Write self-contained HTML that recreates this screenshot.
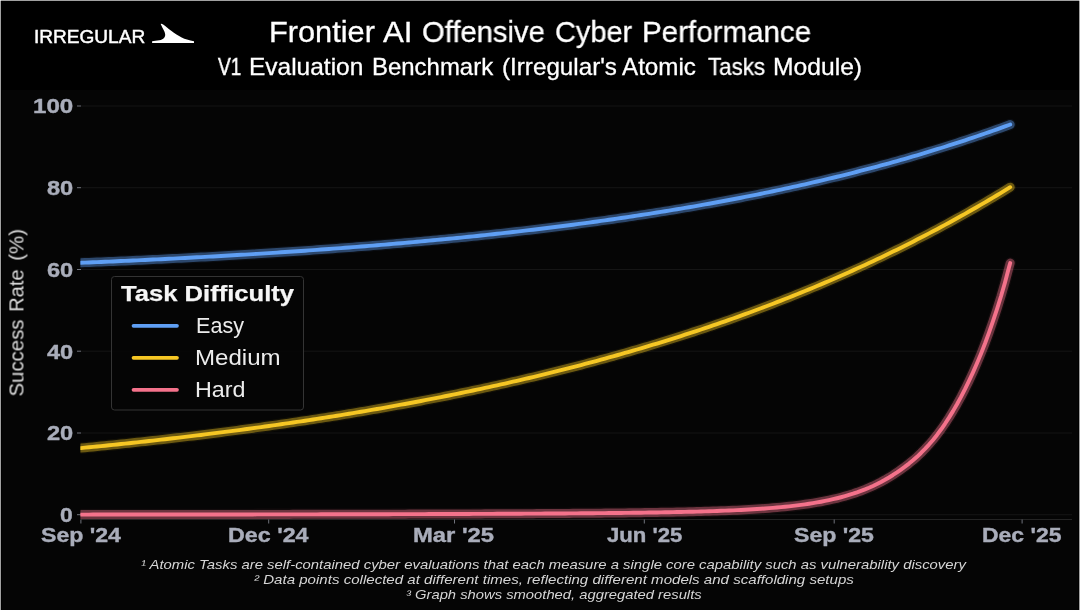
<!DOCTYPE html>
<html><head><meta charset="utf-8"><title>Frontier AI Offensive Cyber Performance</title>
<style>
html,body{margin:0;padding:0;background:#000;}
body{width:1080px;height:610px;position:relative;overflow:hidden;font-family:"Liberation Sans",sans-serif;color:#fff;}
#bt{position:absolute;left:0;top:0;width:1080px;height:1.2px;background:rgba(255,255,255,0.63);}
#bl{position:absolute;left:0;top:0;width:1.25px;height:610px;background:rgba(255,255,255,0.63);}
#br{position:absolute;left:1078.75px;top:0;width:1.25px;height:610px;background:rgba(255,255,255,0.63);}
#plot{position:absolute;left:2.4px;top:90.4px;width:1075.2px;height:520px;background:#050505;}
svg{position:absolute;left:0;top:0;}
.g{position:absolute;left:0;top:0;}
.t{position:absolute;white-space:nowrap;line-height:1;transform-origin:0 0;will-change:transform;}
</style></head><body>
<div id="plot"></div>
<svg width="1080" height="610" viewBox="0 0 1080 610">
<clipPath id="cp"><rect x="80.4" y="90" width="991.6" height="429.5"/></clipPath>
<g stroke="#151515" stroke-width="1"><line x1="81" x2="1072" y1="514.7" y2="514.7"/><line x1="81" x2="1072" y1="433.0" y2="433.0"/><line x1="81" x2="1072" y1="351.2" y2="351.2"/><line x1="81" x2="1072" y1="269.5" y2="269.5"/><line x1="81" x2="1072" y1="187.7" y2="187.7"/><line x1="81" x2="1072" y1="106.0" y2="106.0"/></g>
<line x1="81" x2="1072" y1="519.5" y2="519.5" stroke="#242424" stroke-width="1"/>
<g stroke="#70737c" stroke-width="1"><line x1="77" x2="81" y1="514.7" y2="514.7"/><line x1="77" x2="81" y1="433.0" y2="433.0"/><line x1="77" x2="81" y1="351.2" y2="351.2"/><line x1="77" x2="81" y1="269.5" y2="269.5"/><line x1="77" x2="81" y1="187.7" y2="187.7"/><line x1="77" x2="81" y1="106.0" y2="106.0"/><line x1="80.9" x2="80.9" y1="519.5" y2="523.5"/><line x1="268.7" x2="268.7" y1="519.5" y2="523.5"/><line x1="454.5" x2="454.5" y1="519.5" y2="523.5"/><line x1="644.3" x2="644.3" y1="519.5" y2="523.5"/><line x1="834.2" x2="834.2" y1="519.5" y2="523.5"/><line x1="1022.1" x2="1022.1" y1="519.5" y2="523.5"/></g>
<g fill="none" stroke-linecap="round" stroke-linejoin="round" clip-path="url(#cp)">
<path d="M81.0,262.79 L85.0,262.62 L89.0,262.46 L93.0,262.29 L97.0,262.12 L101.0,261.95 L105.0,261.78 L109.0,261.60 L113.0,261.43 L117.0,261.25 L121.0,261.07 L125.0,260.89 L129.0,260.71 L133.0,260.52 L137.0,260.33 L141.0,260.15 L145.0,259.96 L149.0,259.77 L153.0,259.57 L157.0,259.38 L161.0,259.18 L165.0,258.98 L169.0,258.78 L173.0,258.58 L177.0,258.37 L181.0,258.17 L185.0,257.96 L189.0,257.75 L193.0,257.54 L197.0,257.32 L201.0,257.10 L205.0,256.89 L209.0,256.67 L213.0,256.44 L217.0,256.22 L221.0,255.99 L225.0,255.76 L229.0,255.53 L233.0,255.30 L237.0,255.06 L241.0,254.82 L245.0,254.58 L249.0,254.34 L253.0,254.10 L257.0,253.85 L261.0,253.60 L265.0,253.35 L269.0,253.09 L273.0,252.84 L277.0,252.58 L281.0,252.32 L285.0,252.05 L289.0,251.78 L293.0,251.52 L297.0,251.24 L301.0,250.97 L305.0,250.69 L309.0,250.41 L313.0,250.13 L317.0,249.85 L321.0,249.56 L325.0,249.27 L329.0,248.98 L333.0,248.68 L337.0,248.38 L341.0,248.08 L345.0,247.78 L349.0,247.47 L353.0,247.16 L357.0,246.85 L361.0,246.53 L365.0,246.21 L369.0,245.89 L373.0,245.57 L377.0,245.24 L381.0,244.91 L385.0,244.57 L389.0,244.23 L393.0,243.89 L397.0,243.55 L401.0,243.20 L405.0,242.85 L409.0,242.50 L413.0,242.14 L417.0,241.78 L421.0,241.42 L425.0,241.05 L429.0,240.68 L433.0,240.30 L437.0,239.93 L441.0,239.54 L445.0,239.16 L449.0,238.77 L453.0,238.38 L457.0,237.98 L461.0,237.58 L465.0,237.18 L469.0,236.77 L473.0,236.36 L477.0,235.94 L481.0,235.52 L485.0,235.10 L489.0,234.67 L493.0,234.24 L497.0,233.81 L501.0,233.37 L505.0,232.92 L509.0,232.48 L513.0,232.02 L517.0,231.57 L521.0,231.11 L525.0,230.64 L529.0,230.17 L533.0,229.70 L537.0,229.22 L541.0,228.74 L545.0,228.25 L549.0,227.76 L553.0,227.26 L557.0,226.76 L561.0,226.25 L565.0,225.74 L569.0,225.22 L573.0,224.70 L577.0,224.18 L581.0,223.65 L585.0,223.11 L589.0,222.57 L593.0,222.02 L597.0,221.47 L601.0,220.91 L605.0,220.35 L609.0,219.79 L613.0,219.21 L617.0,218.63 L621.0,218.05 L625.0,217.46 L629.0,216.87 L633.0,216.27 L637.0,215.66 L641.0,215.05 L645.0,214.43 L649.0,213.81 L653.0,213.18 L657.0,212.54 L661.0,211.90 L665.0,211.26 L669.0,210.60 L673.0,209.94 L677.0,209.28 L681.0,208.60 L685.0,207.93 L689.0,207.24 L693.0,206.55 L697.0,205.85 L701.0,205.15 L705.0,204.43 L709.0,203.72 L713.0,202.99 L717.0,202.26 L721.0,201.52 L725.0,200.77 L729.0,200.02 L733.0,199.26 L737.0,198.49 L741.0,197.72 L745.0,196.94 L749.0,196.15 L753.0,195.35 L757.0,194.55 L761.0,193.74 L765.0,192.92 L769.0,192.09 L773.0,191.25 L777.0,190.41 L781.0,189.56 L785.0,188.70 L789.0,187.83 L793.0,186.96 L797.0,186.07 L801.0,185.18 L805.0,184.28 L809.0,183.37 L813.0,182.45 L817.0,181.52 L821.0,180.59 L825.0,179.64 L829.0,178.69 L833.0,177.73 L837.0,176.76 L841.0,175.78 L845.0,174.79 L849.0,173.79 L853.0,172.78 L857.0,171.76 L861.0,170.73 L865.0,169.69 L869.0,168.65 L873.0,167.59 L877.0,166.52 L881.0,165.44 L885.0,164.35 L889.0,163.26 L893.0,162.15 L897.0,161.03 L901.0,159.90 L905.0,158.76 L909.0,157.61 L913.0,156.44 L917.0,155.27 L921.0,154.09 L925.0,152.89 L929.0,151.68 L933.0,150.46 L937.0,149.23 L941.0,147.99 L945.0,146.74 L949.0,145.47 L953.0,144.20 L957.0,142.91 L961.0,141.60 L965.0,140.29 L969.0,138.96 L973.0,137.62 L977.0,136.27 L981.0,134.91 L985.0,133.53 L989.0,132.14 L993.0,130.73 L997.0,129.32 L1001.0,127.89 L1005.0,126.44 L1009.0,124.98 L1010.2,124.54" stroke="#5f9ff4" stroke-opacity="0.06" stroke-width="11.6"/>
<path d="M81.0,262.79 L85.0,262.62 L89.0,262.46 L93.0,262.29 L97.0,262.12 L101.0,261.95 L105.0,261.78 L109.0,261.60 L113.0,261.43 L117.0,261.25 L121.0,261.07 L125.0,260.89 L129.0,260.71 L133.0,260.52 L137.0,260.33 L141.0,260.15 L145.0,259.96 L149.0,259.77 L153.0,259.57 L157.0,259.38 L161.0,259.18 L165.0,258.98 L169.0,258.78 L173.0,258.58 L177.0,258.37 L181.0,258.17 L185.0,257.96 L189.0,257.75 L193.0,257.54 L197.0,257.32 L201.0,257.10 L205.0,256.89 L209.0,256.67 L213.0,256.44 L217.0,256.22 L221.0,255.99 L225.0,255.76 L229.0,255.53 L233.0,255.30 L237.0,255.06 L241.0,254.82 L245.0,254.58 L249.0,254.34 L253.0,254.10 L257.0,253.85 L261.0,253.60 L265.0,253.35 L269.0,253.09 L273.0,252.84 L277.0,252.58 L281.0,252.32 L285.0,252.05 L289.0,251.78 L293.0,251.52 L297.0,251.24 L301.0,250.97 L305.0,250.69 L309.0,250.41 L313.0,250.13 L317.0,249.85 L321.0,249.56 L325.0,249.27 L329.0,248.98 L333.0,248.68 L337.0,248.38 L341.0,248.08 L345.0,247.78 L349.0,247.47 L353.0,247.16 L357.0,246.85 L361.0,246.53 L365.0,246.21 L369.0,245.89 L373.0,245.57 L377.0,245.24 L381.0,244.91 L385.0,244.57 L389.0,244.23 L393.0,243.89 L397.0,243.55 L401.0,243.20 L405.0,242.85 L409.0,242.50 L413.0,242.14 L417.0,241.78 L421.0,241.42 L425.0,241.05 L429.0,240.68 L433.0,240.30 L437.0,239.93 L441.0,239.54 L445.0,239.16 L449.0,238.77 L453.0,238.38 L457.0,237.98 L461.0,237.58 L465.0,237.18 L469.0,236.77 L473.0,236.36 L477.0,235.94 L481.0,235.52 L485.0,235.10 L489.0,234.67 L493.0,234.24 L497.0,233.81 L501.0,233.37 L505.0,232.92 L509.0,232.48 L513.0,232.02 L517.0,231.57 L521.0,231.11 L525.0,230.64 L529.0,230.17 L533.0,229.70 L537.0,229.22 L541.0,228.74 L545.0,228.25 L549.0,227.76 L553.0,227.26 L557.0,226.76 L561.0,226.25 L565.0,225.74 L569.0,225.22 L573.0,224.70 L577.0,224.18 L581.0,223.65 L585.0,223.11 L589.0,222.57 L593.0,222.02 L597.0,221.47 L601.0,220.91 L605.0,220.35 L609.0,219.79 L613.0,219.21 L617.0,218.63 L621.0,218.05 L625.0,217.46 L629.0,216.87 L633.0,216.27 L637.0,215.66 L641.0,215.05 L645.0,214.43 L649.0,213.81 L653.0,213.18 L657.0,212.54 L661.0,211.90 L665.0,211.26 L669.0,210.60 L673.0,209.94 L677.0,209.28 L681.0,208.60 L685.0,207.93 L689.0,207.24 L693.0,206.55 L697.0,205.85 L701.0,205.15 L705.0,204.43 L709.0,203.72 L713.0,202.99 L717.0,202.26 L721.0,201.52 L725.0,200.77 L729.0,200.02 L733.0,199.26 L737.0,198.49 L741.0,197.72 L745.0,196.94 L749.0,196.15 L753.0,195.35 L757.0,194.55 L761.0,193.74 L765.0,192.92 L769.0,192.09 L773.0,191.25 L777.0,190.41 L781.0,189.56 L785.0,188.70 L789.0,187.83 L793.0,186.96 L797.0,186.07 L801.0,185.18 L805.0,184.28 L809.0,183.37 L813.0,182.45 L817.0,181.52 L821.0,180.59 L825.0,179.64 L829.0,178.69 L833.0,177.73 L837.0,176.76 L841.0,175.78 L845.0,174.79 L849.0,173.79 L853.0,172.78 L857.0,171.76 L861.0,170.73 L865.0,169.69 L869.0,168.65 L873.0,167.59 L877.0,166.52 L881.0,165.44 L885.0,164.35 L889.0,163.26 L893.0,162.15 L897.0,161.03 L901.0,159.90 L905.0,158.76 L909.0,157.61 L913.0,156.44 L917.0,155.27 L921.0,154.09 L925.0,152.89 L929.0,151.68 L933.0,150.46 L937.0,149.23 L941.0,147.99 L945.0,146.74 L949.0,145.47 L953.0,144.20 L957.0,142.91 L961.0,141.60 L965.0,140.29 L969.0,138.96 L973.0,137.62 L977.0,136.27 L981.0,134.91 L985.0,133.53 L989.0,132.14 L993.0,130.73 L997.0,129.32 L1001.0,127.89 L1005.0,126.44 L1009.0,124.98 L1010.2,124.54" stroke="#5f9ff4" stroke-opacity="0.40" stroke-width="9.0"/>
<path d="M81.0,262.79 L85.0,262.62 L89.0,262.46 L93.0,262.29 L97.0,262.12 L101.0,261.95 L105.0,261.78 L109.0,261.60 L113.0,261.43 L117.0,261.25 L121.0,261.07 L125.0,260.89 L129.0,260.71 L133.0,260.52 L137.0,260.33 L141.0,260.15 L145.0,259.96 L149.0,259.77 L153.0,259.57 L157.0,259.38 L161.0,259.18 L165.0,258.98 L169.0,258.78 L173.0,258.58 L177.0,258.37 L181.0,258.17 L185.0,257.96 L189.0,257.75 L193.0,257.54 L197.0,257.32 L201.0,257.10 L205.0,256.89 L209.0,256.67 L213.0,256.44 L217.0,256.22 L221.0,255.99 L225.0,255.76 L229.0,255.53 L233.0,255.30 L237.0,255.06 L241.0,254.82 L245.0,254.58 L249.0,254.34 L253.0,254.10 L257.0,253.85 L261.0,253.60 L265.0,253.35 L269.0,253.09 L273.0,252.84 L277.0,252.58 L281.0,252.32 L285.0,252.05 L289.0,251.78 L293.0,251.52 L297.0,251.24 L301.0,250.97 L305.0,250.69 L309.0,250.41 L313.0,250.13 L317.0,249.85 L321.0,249.56 L325.0,249.27 L329.0,248.98 L333.0,248.68 L337.0,248.38 L341.0,248.08 L345.0,247.78 L349.0,247.47 L353.0,247.16 L357.0,246.85 L361.0,246.53 L365.0,246.21 L369.0,245.89 L373.0,245.57 L377.0,245.24 L381.0,244.91 L385.0,244.57 L389.0,244.23 L393.0,243.89 L397.0,243.55 L401.0,243.20 L405.0,242.85 L409.0,242.50 L413.0,242.14 L417.0,241.78 L421.0,241.42 L425.0,241.05 L429.0,240.68 L433.0,240.30 L437.0,239.93 L441.0,239.54 L445.0,239.16 L449.0,238.77 L453.0,238.38 L457.0,237.98 L461.0,237.58 L465.0,237.18 L469.0,236.77 L473.0,236.36 L477.0,235.94 L481.0,235.52 L485.0,235.10 L489.0,234.67 L493.0,234.24 L497.0,233.81 L501.0,233.37 L505.0,232.92 L509.0,232.48 L513.0,232.02 L517.0,231.57 L521.0,231.11 L525.0,230.64 L529.0,230.17 L533.0,229.70 L537.0,229.22 L541.0,228.74 L545.0,228.25 L549.0,227.76 L553.0,227.26 L557.0,226.76 L561.0,226.25 L565.0,225.74 L569.0,225.22 L573.0,224.70 L577.0,224.18 L581.0,223.65 L585.0,223.11 L589.0,222.57 L593.0,222.02 L597.0,221.47 L601.0,220.91 L605.0,220.35 L609.0,219.79 L613.0,219.21 L617.0,218.63 L621.0,218.05 L625.0,217.46 L629.0,216.87 L633.0,216.27 L637.0,215.66 L641.0,215.05 L645.0,214.43 L649.0,213.81 L653.0,213.18 L657.0,212.54 L661.0,211.90 L665.0,211.26 L669.0,210.60 L673.0,209.94 L677.0,209.28 L681.0,208.60 L685.0,207.93 L689.0,207.24 L693.0,206.55 L697.0,205.85 L701.0,205.15 L705.0,204.43 L709.0,203.72 L713.0,202.99 L717.0,202.26 L721.0,201.52 L725.0,200.77 L729.0,200.02 L733.0,199.26 L737.0,198.49 L741.0,197.72 L745.0,196.94 L749.0,196.15 L753.0,195.35 L757.0,194.55 L761.0,193.74 L765.0,192.92 L769.0,192.09 L773.0,191.25 L777.0,190.41 L781.0,189.56 L785.0,188.70 L789.0,187.83 L793.0,186.96 L797.0,186.07 L801.0,185.18 L805.0,184.28 L809.0,183.37 L813.0,182.45 L817.0,181.52 L821.0,180.59 L825.0,179.64 L829.0,178.69 L833.0,177.73 L837.0,176.76 L841.0,175.78 L845.0,174.79 L849.0,173.79 L853.0,172.78 L857.0,171.76 L861.0,170.73 L865.0,169.69 L869.0,168.65 L873.0,167.59 L877.0,166.52 L881.0,165.44 L885.0,164.35 L889.0,163.26 L893.0,162.15 L897.0,161.03 L901.0,159.90 L905.0,158.76 L909.0,157.61 L913.0,156.44 L917.0,155.27 L921.0,154.09 L925.0,152.89 L929.0,151.68 L933.0,150.46 L937.0,149.23 L941.0,147.99 L945.0,146.74 L949.0,145.47 L953.0,144.20 L957.0,142.91 L961.0,141.60 L965.0,140.29 L969.0,138.96 L973.0,137.62 L977.0,136.27 L981.0,134.91 L985.0,133.53 L989.0,132.14 L993.0,130.73 L997.0,129.32 L1001.0,127.89 L1005.0,126.44 L1009.0,124.98 L1010.2,124.54" stroke="#5f9ff4" stroke-width="3.9"/>
<path d="M81.0,448.07 L85.0,447.68 L89.0,447.29 L93.0,446.90 L97.0,446.50 L101.0,446.10 L105.0,445.69 L109.0,445.28 L113.0,444.87 L117.0,444.46 L121.0,444.04 L125.0,443.62 L129.0,443.19 L133.0,442.76 L137.0,442.33 L141.0,441.90 L145.0,441.46 L149.0,441.02 L153.0,440.57 L157.0,440.12 L161.0,439.67 L165.0,439.21 L169.0,438.75 L173.0,438.29 L177.0,437.82 L181.0,437.35 L185.0,436.87 L189.0,436.40 L193.0,435.91 L197.0,435.43 L201.0,434.94 L205.0,434.44 L209.0,433.94 L213.0,433.44 L217.0,432.94 L221.0,432.43 L225.0,431.91 L229.0,431.39 L233.0,430.87 L237.0,430.34 L241.0,429.81 L245.0,429.28 L249.0,428.74 L253.0,428.19 L257.0,427.65 L261.0,427.09 L265.0,426.54 L269.0,425.98 L273.0,425.41 L277.0,424.84 L281.0,424.26 L285.0,423.69 L289.0,423.10 L293.0,422.51 L297.0,421.92 L301.0,421.32 L305.0,420.72 L309.0,420.11 L313.0,419.50 L317.0,418.88 L321.0,418.26 L325.0,417.63 L329.0,417.00 L333.0,416.36 L337.0,415.72 L341.0,415.07 L345.0,414.41 L349.0,413.76 L353.0,413.09 L357.0,412.42 L361.0,411.75 L365.0,411.07 L369.0,410.39 L373.0,409.69 L377.0,409.00 L381.0,408.30 L385.0,407.59 L389.0,406.88 L393.0,406.16 L397.0,405.43 L401.0,404.70 L405.0,403.97 L409.0,403.23 L413.0,402.48 L417.0,401.72 L421.0,400.97 L425.0,400.20 L429.0,399.43 L433.0,398.65 L437.0,397.86 L441.0,397.07 L445.0,396.28 L449.0,395.47 L453.0,394.66 L457.0,393.85 L461.0,393.03 L465.0,392.20 L469.0,391.36 L473.0,390.52 L477.0,389.67 L481.0,388.81 L485.0,387.95 L489.0,387.08 L493.0,386.20 L497.0,385.32 L501.0,384.43 L505.0,383.53 L509.0,382.62 L513.0,381.71 L517.0,380.79 L521.0,379.86 L525.0,378.93 L529.0,377.99 L533.0,377.04 L537.0,376.08 L541.0,375.12 L545.0,374.14 L549.0,373.16 L553.0,372.18 L557.0,371.18 L561.0,370.18 L565.0,369.16 L569.0,368.14 L573.0,367.11 L577.0,366.08 L581.0,365.03 L585.0,363.98 L589.0,362.92 L593.0,361.85 L597.0,360.77 L601.0,359.68 L605.0,358.59 L609.0,357.48 L613.0,356.37 L617.0,355.25 L621.0,354.12 L625.0,352.97 L629.0,351.82 L633.0,350.67 L637.0,349.50 L641.0,348.32 L645.0,347.13 L649.0,345.94 L653.0,344.73 L657.0,343.52 L661.0,342.29 L665.0,341.06 L669.0,339.81 L673.0,338.56 L677.0,337.29 L681.0,336.02 L685.0,334.73 L689.0,333.44 L693.0,332.13 L697.0,330.81 L701.0,329.49 L705.0,328.15 L709.0,326.80 L713.0,325.44 L717.0,324.07 L721.0,322.69 L725.0,321.30 L729.0,319.90 L733.0,318.48 L737.0,317.06 L741.0,315.62 L745.0,314.17 L749.0,312.71 L753.0,311.24 L757.0,309.76 L761.0,308.26 L765.0,306.76 L769.0,305.24 L773.0,303.71 L777.0,302.16 L781.0,300.61 L785.0,299.04 L789.0,297.46 L793.0,295.86 L797.0,294.26 L801.0,292.64 L805.0,291.01 L809.0,289.36 L813.0,287.70 L817.0,286.03 L821.0,284.35 L825.0,282.65 L829.0,280.94 L833.0,279.21 L837.0,277.47 L841.0,275.72 L845.0,273.95 L849.0,272.17 L853.0,270.38 L857.0,268.57 L861.0,266.74 L865.0,264.90 L869.0,263.05 L873.0,261.18 L877.0,259.30 L881.0,257.40 L885.0,255.48 L889.0,253.55 L893.0,251.61 L897.0,249.65 L901.0,247.67 L905.0,245.68 L909.0,243.68 L913.0,241.65 L917.0,239.61 L921.0,237.56 L925.0,235.48 L929.0,233.39 L933.0,231.29 L937.0,229.17 L941.0,227.03 L945.0,224.87 L949.0,222.70 L953.0,220.51 L957.0,218.30 L961.0,216.07 L965.0,213.83 L969.0,211.56 L973.0,209.28 L977.0,206.98 L981.0,204.67 L985.0,202.33 L989.0,199.98 L993.0,197.61 L997.0,195.21 L1001.0,192.80 L1005.0,190.37 L1009.0,187.92 L1010.2,187.18" stroke="#f6c724" stroke-opacity="0.06" stroke-width="11.6"/>
<path d="M81.0,448.07 L85.0,447.68 L89.0,447.29 L93.0,446.90 L97.0,446.50 L101.0,446.10 L105.0,445.69 L109.0,445.28 L113.0,444.87 L117.0,444.46 L121.0,444.04 L125.0,443.62 L129.0,443.19 L133.0,442.76 L137.0,442.33 L141.0,441.90 L145.0,441.46 L149.0,441.02 L153.0,440.57 L157.0,440.12 L161.0,439.67 L165.0,439.21 L169.0,438.75 L173.0,438.29 L177.0,437.82 L181.0,437.35 L185.0,436.87 L189.0,436.40 L193.0,435.91 L197.0,435.43 L201.0,434.94 L205.0,434.44 L209.0,433.94 L213.0,433.44 L217.0,432.94 L221.0,432.43 L225.0,431.91 L229.0,431.39 L233.0,430.87 L237.0,430.34 L241.0,429.81 L245.0,429.28 L249.0,428.74 L253.0,428.19 L257.0,427.65 L261.0,427.09 L265.0,426.54 L269.0,425.98 L273.0,425.41 L277.0,424.84 L281.0,424.26 L285.0,423.69 L289.0,423.10 L293.0,422.51 L297.0,421.92 L301.0,421.32 L305.0,420.72 L309.0,420.11 L313.0,419.50 L317.0,418.88 L321.0,418.26 L325.0,417.63 L329.0,417.00 L333.0,416.36 L337.0,415.72 L341.0,415.07 L345.0,414.41 L349.0,413.76 L353.0,413.09 L357.0,412.42 L361.0,411.75 L365.0,411.07 L369.0,410.39 L373.0,409.69 L377.0,409.00 L381.0,408.30 L385.0,407.59 L389.0,406.88 L393.0,406.16 L397.0,405.43 L401.0,404.70 L405.0,403.97 L409.0,403.23 L413.0,402.48 L417.0,401.72 L421.0,400.97 L425.0,400.20 L429.0,399.43 L433.0,398.65 L437.0,397.86 L441.0,397.07 L445.0,396.28 L449.0,395.47 L453.0,394.66 L457.0,393.85 L461.0,393.03 L465.0,392.20 L469.0,391.36 L473.0,390.52 L477.0,389.67 L481.0,388.81 L485.0,387.95 L489.0,387.08 L493.0,386.20 L497.0,385.32 L501.0,384.43 L505.0,383.53 L509.0,382.62 L513.0,381.71 L517.0,380.79 L521.0,379.86 L525.0,378.93 L529.0,377.99 L533.0,377.04 L537.0,376.08 L541.0,375.12 L545.0,374.14 L549.0,373.16 L553.0,372.18 L557.0,371.18 L561.0,370.18 L565.0,369.16 L569.0,368.14 L573.0,367.11 L577.0,366.08 L581.0,365.03 L585.0,363.98 L589.0,362.92 L593.0,361.85 L597.0,360.77 L601.0,359.68 L605.0,358.59 L609.0,357.48 L613.0,356.37 L617.0,355.25 L621.0,354.12 L625.0,352.97 L629.0,351.82 L633.0,350.67 L637.0,349.50 L641.0,348.32 L645.0,347.13 L649.0,345.94 L653.0,344.73 L657.0,343.52 L661.0,342.29 L665.0,341.06 L669.0,339.81 L673.0,338.56 L677.0,337.29 L681.0,336.02 L685.0,334.73 L689.0,333.44 L693.0,332.13 L697.0,330.81 L701.0,329.49 L705.0,328.15 L709.0,326.80 L713.0,325.44 L717.0,324.07 L721.0,322.69 L725.0,321.30 L729.0,319.90 L733.0,318.48 L737.0,317.06 L741.0,315.62 L745.0,314.17 L749.0,312.71 L753.0,311.24 L757.0,309.76 L761.0,308.26 L765.0,306.76 L769.0,305.24 L773.0,303.71 L777.0,302.16 L781.0,300.61 L785.0,299.04 L789.0,297.46 L793.0,295.86 L797.0,294.26 L801.0,292.64 L805.0,291.01 L809.0,289.36 L813.0,287.70 L817.0,286.03 L821.0,284.35 L825.0,282.65 L829.0,280.94 L833.0,279.21 L837.0,277.47 L841.0,275.72 L845.0,273.95 L849.0,272.17 L853.0,270.38 L857.0,268.57 L861.0,266.74 L865.0,264.90 L869.0,263.05 L873.0,261.18 L877.0,259.30 L881.0,257.40 L885.0,255.48 L889.0,253.55 L893.0,251.61 L897.0,249.65 L901.0,247.67 L905.0,245.68 L909.0,243.68 L913.0,241.65 L917.0,239.61 L921.0,237.56 L925.0,235.48 L929.0,233.39 L933.0,231.29 L937.0,229.17 L941.0,227.03 L945.0,224.87 L949.0,222.70 L953.0,220.51 L957.0,218.30 L961.0,216.07 L965.0,213.83 L969.0,211.56 L973.0,209.28 L977.0,206.98 L981.0,204.67 L985.0,202.33 L989.0,199.98 L993.0,197.61 L997.0,195.21 L1001.0,192.80 L1005.0,190.37 L1009.0,187.92 L1010.2,187.18" stroke="#f6c724" stroke-opacity="0.40" stroke-width="9.0"/>
<path d="M81.0,448.07 L85.0,447.68 L89.0,447.29 L93.0,446.90 L97.0,446.50 L101.0,446.10 L105.0,445.69 L109.0,445.28 L113.0,444.87 L117.0,444.46 L121.0,444.04 L125.0,443.62 L129.0,443.19 L133.0,442.76 L137.0,442.33 L141.0,441.90 L145.0,441.46 L149.0,441.02 L153.0,440.57 L157.0,440.12 L161.0,439.67 L165.0,439.21 L169.0,438.75 L173.0,438.29 L177.0,437.82 L181.0,437.35 L185.0,436.87 L189.0,436.40 L193.0,435.91 L197.0,435.43 L201.0,434.94 L205.0,434.44 L209.0,433.94 L213.0,433.44 L217.0,432.94 L221.0,432.43 L225.0,431.91 L229.0,431.39 L233.0,430.87 L237.0,430.34 L241.0,429.81 L245.0,429.28 L249.0,428.74 L253.0,428.19 L257.0,427.65 L261.0,427.09 L265.0,426.54 L269.0,425.98 L273.0,425.41 L277.0,424.84 L281.0,424.26 L285.0,423.69 L289.0,423.10 L293.0,422.51 L297.0,421.92 L301.0,421.32 L305.0,420.72 L309.0,420.11 L313.0,419.50 L317.0,418.88 L321.0,418.26 L325.0,417.63 L329.0,417.00 L333.0,416.36 L337.0,415.72 L341.0,415.07 L345.0,414.41 L349.0,413.76 L353.0,413.09 L357.0,412.42 L361.0,411.75 L365.0,411.07 L369.0,410.39 L373.0,409.69 L377.0,409.00 L381.0,408.30 L385.0,407.59 L389.0,406.88 L393.0,406.16 L397.0,405.43 L401.0,404.70 L405.0,403.97 L409.0,403.23 L413.0,402.48 L417.0,401.72 L421.0,400.97 L425.0,400.20 L429.0,399.43 L433.0,398.65 L437.0,397.86 L441.0,397.07 L445.0,396.28 L449.0,395.47 L453.0,394.66 L457.0,393.85 L461.0,393.03 L465.0,392.20 L469.0,391.36 L473.0,390.52 L477.0,389.67 L481.0,388.81 L485.0,387.95 L489.0,387.08 L493.0,386.20 L497.0,385.32 L501.0,384.43 L505.0,383.53 L509.0,382.62 L513.0,381.71 L517.0,380.79 L521.0,379.86 L525.0,378.93 L529.0,377.99 L533.0,377.04 L537.0,376.08 L541.0,375.12 L545.0,374.14 L549.0,373.16 L553.0,372.18 L557.0,371.18 L561.0,370.18 L565.0,369.16 L569.0,368.14 L573.0,367.11 L577.0,366.08 L581.0,365.03 L585.0,363.98 L589.0,362.92 L593.0,361.85 L597.0,360.77 L601.0,359.68 L605.0,358.59 L609.0,357.48 L613.0,356.37 L617.0,355.25 L621.0,354.12 L625.0,352.97 L629.0,351.82 L633.0,350.67 L637.0,349.50 L641.0,348.32 L645.0,347.13 L649.0,345.94 L653.0,344.73 L657.0,343.52 L661.0,342.29 L665.0,341.06 L669.0,339.81 L673.0,338.56 L677.0,337.29 L681.0,336.02 L685.0,334.73 L689.0,333.44 L693.0,332.13 L697.0,330.81 L701.0,329.49 L705.0,328.15 L709.0,326.80 L713.0,325.44 L717.0,324.07 L721.0,322.69 L725.0,321.30 L729.0,319.90 L733.0,318.48 L737.0,317.06 L741.0,315.62 L745.0,314.17 L749.0,312.71 L753.0,311.24 L757.0,309.76 L761.0,308.26 L765.0,306.76 L769.0,305.24 L773.0,303.71 L777.0,302.16 L781.0,300.61 L785.0,299.04 L789.0,297.46 L793.0,295.86 L797.0,294.26 L801.0,292.64 L805.0,291.01 L809.0,289.36 L813.0,287.70 L817.0,286.03 L821.0,284.35 L825.0,282.65 L829.0,280.94 L833.0,279.21 L837.0,277.47 L841.0,275.72 L845.0,273.95 L849.0,272.17 L853.0,270.38 L857.0,268.57 L861.0,266.74 L865.0,264.90 L869.0,263.05 L873.0,261.18 L877.0,259.30 L881.0,257.40 L885.0,255.48 L889.0,253.55 L893.0,251.61 L897.0,249.65 L901.0,247.67 L905.0,245.68 L909.0,243.68 L913.0,241.65 L917.0,239.61 L921.0,237.56 L925.0,235.48 L929.0,233.39 L933.0,231.29 L937.0,229.17 L941.0,227.03 L945.0,224.87 L949.0,222.70 L953.0,220.51 L957.0,218.30 L961.0,216.07 L965.0,213.83 L969.0,211.56 L973.0,209.28 L977.0,206.98 L981.0,204.67 L985.0,202.33 L989.0,199.98 L993.0,197.61 L997.0,195.21 L1001.0,192.80 L1005.0,190.37 L1009.0,187.92 L1010.2,187.18" stroke="#f6c724" stroke-width="3.9"/>
<path d="M81.0,514.58 L85.0,514.58 L89.0,514.58 L93.0,514.57 L97.0,514.57 L101.0,514.57 L105.0,514.57 L109.0,514.56 L113.0,514.56 L117.0,514.56 L121.0,514.56 L125.0,514.55 L129.0,514.55 L133.0,514.55 L137.0,514.54 L141.0,514.54 L145.0,514.54 L149.0,514.53 L153.0,514.53 L157.0,514.53 L161.0,514.52 L165.0,514.52 L169.0,514.52 L173.0,514.51 L177.0,514.51 L181.0,514.51 L185.0,514.50 L189.0,514.50 L193.0,514.50 L197.0,514.49 L201.0,514.49 L205.0,514.48 L209.0,514.48 L213.0,514.48 L217.0,514.47 L221.0,514.47 L225.0,514.46 L229.0,514.46 L233.0,514.45 L237.0,514.45 L241.0,514.44 L245.0,514.44 L249.0,514.43 L253.0,514.43 L257.0,514.42 L261.0,514.42 L265.0,514.41 L269.0,514.41 L273.0,514.40 L277.0,514.39 L281.0,514.39 L285.0,514.38 L289.0,514.38 L293.0,514.37 L297.0,514.36 L301.0,514.36 L305.0,514.35 L309.0,514.34 L313.0,514.34 L317.0,514.33 L321.0,514.32 L325.0,514.32 L329.0,514.31 L333.0,514.30 L337.0,514.29 L341.0,514.29 L345.0,514.28 L349.0,514.27 L353.0,514.26 L357.0,514.25 L361.0,514.24 L365.0,514.23 L369.0,514.23 L373.0,514.22 L377.0,514.21 L381.0,514.20 L385.0,514.19 L389.0,514.18 L393.0,514.17 L397.0,514.16 L401.0,514.15 L405.0,514.14 L409.0,514.12 L413.0,514.11 L417.0,514.10 L421.0,514.09 L425.0,514.08 L429.0,514.07 L433.0,514.05 L437.0,514.04 L441.0,514.03 L445.0,514.01 L449.0,514.00 L453.0,513.99 L457.0,513.97 L461.0,513.96 L465.0,513.94 L469.0,513.93 L473.0,513.91 L477.0,513.90 L481.0,513.88 L485.0,513.86 L489.0,513.85 L493.0,513.83 L497.0,513.81 L501.0,513.79 L505.0,513.77 L509.0,513.76 L513.0,513.74 L517.0,513.72 L521.0,513.69 L525.0,513.67 L529.0,513.65 L533.0,513.63 L537.0,513.61 L541.0,513.58 L545.0,513.56 L549.0,513.53 L553.0,513.51 L557.0,513.48 L561.0,513.46 L565.0,513.43 L569.0,513.40 L573.0,513.37 L577.0,513.34 L581.0,513.31 L585.0,513.28 L589.0,513.24 L593.0,513.21 L597.0,513.17 L601.0,513.13 L605.0,513.10 L609.0,513.06 L613.0,513.01 L617.0,512.97 L621.0,512.93 L625.0,512.88 L629.0,512.83 L633.0,512.78 L637.0,512.73 L641.0,512.68 L645.0,512.62 L649.0,512.56 L653.0,512.50 L657.0,512.44 L661.0,512.37 L665.0,512.30 L669.0,512.22 L673.0,512.15 L677.0,512.06 L681.0,511.98 L685.0,511.89 L689.0,511.79 L693.0,511.69 L697.0,511.59 L701.0,511.48 L705.0,511.36 L709.0,511.24 L713.0,511.11 L717.0,510.97 L721.0,510.82 L725.0,510.67 L729.0,510.50 L733.0,510.33 L737.0,510.14 L741.0,509.95 L745.0,509.74 L749.0,509.52 L753.0,509.28 L757.0,509.03 L761.0,508.76 L765.0,508.48 L769.0,508.18 L773.0,507.85 L777.0,507.51 L781.0,507.14 L785.0,506.74 L789.0,506.32 L793.0,505.87 L797.0,505.39 L801.0,504.88 L805.0,504.32 L809.0,503.74 L813.0,503.10 L817.0,502.43 L821.0,501.71 L825.0,500.93 L829.0,500.10 L833.0,499.21 L837.0,498.26 L841.0,497.24 L845.0,496.15 L849.0,494.97 L853.0,493.72 L857.0,492.37 L861.0,490.92 L865.0,489.37 L869.0,487.71 L873.0,485.94 L877.0,484.03 L881.0,481.99 L885.0,479.80 L889.0,477.47 L893.0,474.98 L897.0,472.33 L901.0,469.54 L905.0,466.64 L909.0,463.59 L913.0,460.33 L917.0,456.80 L921.0,452.98 L925.0,448.92 L929.0,444.57 L933.0,439.92 L937.0,434.91 L941.0,429.53 L945.0,423.77 L949.0,417.63 L953.0,411.11 L957.0,404.19 L961.0,396.87 L965.0,389.14 L969.0,380.97 L973.0,372.34 L977.0,363.23 L981.0,353.64 L985.0,343.48 L989.0,332.62 L993.0,321.13 L997.0,309.06 L1001.0,296.28 L1005.0,282.42 L1009.0,267.32 L1010.2,263.05" stroke="#f4728b" stroke-opacity="0.06" stroke-width="11.6"/>
<path d="M81.0,514.58 L85.0,514.58 L89.0,514.58 L93.0,514.57 L97.0,514.57 L101.0,514.57 L105.0,514.57 L109.0,514.56 L113.0,514.56 L117.0,514.56 L121.0,514.56 L125.0,514.55 L129.0,514.55 L133.0,514.55 L137.0,514.54 L141.0,514.54 L145.0,514.54 L149.0,514.53 L153.0,514.53 L157.0,514.53 L161.0,514.52 L165.0,514.52 L169.0,514.52 L173.0,514.51 L177.0,514.51 L181.0,514.51 L185.0,514.50 L189.0,514.50 L193.0,514.50 L197.0,514.49 L201.0,514.49 L205.0,514.48 L209.0,514.48 L213.0,514.48 L217.0,514.47 L221.0,514.47 L225.0,514.46 L229.0,514.46 L233.0,514.45 L237.0,514.45 L241.0,514.44 L245.0,514.44 L249.0,514.43 L253.0,514.43 L257.0,514.42 L261.0,514.42 L265.0,514.41 L269.0,514.41 L273.0,514.40 L277.0,514.39 L281.0,514.39 L285.0,514.38 L289.0,514.38 L293.0,514.37 L297.0,514.36 L301.0,514.36 L305.0,514.35 L309.0,514.34 L313.0,514.34 L317.0,514.33 L321.0,514.32 L325.0,514.32 L329.0,514.31 L333.0,514.30 L337.0,514.29 L341.0,514.29 L345.0,514.28 L349.0,514.27 L353.0,514.26 L357.0,514.25 L361.0,514.24 L365.0,514.23 L369.0,514.23 L373.0,514.22 L377.0,514.21 L381.0,514.20 L385.0,514.19 L389.0,514.18 L393.0,514.17 L397.0,514.16 L401.0,514.15 L405.0,514.14 L409.0,514.12 L413.0,514.11 L417.0,514.10 L421.0,514.09 L425.0,514.08 L429.0,514.07 L433.0,514.05 L437.0,514.04 L441.0,514.03 L445.0,514.01 L449.0,514.00 L453.0,513.99 L457.0,513.97 L461.0,513.96 L465.0,513.94 L469.0,513.93 L473.0,513.91 L477.0,513.90 L481.0,513.88 L485.0,513.86 L489.0,513.85 L493.0,513.83 L497.0,513.81 L501.0,513.79 L505.0,513.77 L509.0,513.76 L513.0,513.74 L517.0,513.72 L521.0,513.69 L525.0,513.67 L529.0,513.65 L533.0,513.63 L537.0,513.61 L541.0,513.58 L545.0,513.56 L549.0,513.53 L553.0,513.51 L557.0,513.48 L561.0,513.46 L565.0,513.43 L569.0,513.40 L573.0,513.37 L577.0,513.34 L581.0,513.31 L585.0,513.28 L589.0,513.24 L593.0,513.21 L597.0,513.17 L601.0,513.13 L605.0,513.10 L609.0,513.06 L613.0,513.01 L617.0,512.97 L621.0,512.93 L625.0,512.88 L629.0,512.83 L633.0,512.78 L637.0,512.73 L641.0,512.68 L645.0,512.62 L649.0,512.56 L653.0,512.50 L657.0,512.44 L661.0,512.37 L665.0,512.30 L669.0,512.22 L673.0,512.15 L677.0,512.06 L681.0,511.98 L685.0,511.89 L689.0,511.79 L693.0,511.69 L697.0,511.59 L701.0,511.48 L705.0,511.36 L709.0,511.24 L713.0,511.11 L717.0,510.97 L721.0,510.82 L725.0,510.67 L729.0,510.50 L733.0,510.33 L737.0,510.14 L741.0,509.95 L745.0,509.74 L749.0,509.52 L753.0,509.28 L757.0,509.03 L761.0,508.76 L765.0,508.48 L769.0,508.18 L773.0,507.85 L777.0,507.51 L781.0,507.14 L785.0,506.74 L789.0,506.32 L793.0,505.87 L797.0,505.39 L801.0,504.88 L805.0,504.32 L809.0,503.74 L813.0,503.10 L817.0,502.43 L821.0,501.71 L825.0,500.93 L829.0,500.10 L833.0,499.21 L837.0,498.26 L841.0,497.24 L845.0,496.15 L849.0,494.97 L853.0,493.72 L857.0,492.37 L861.0,490.92 L865.0,489.37 L869.0,487.71 L873.0,485.94 L877.0,484.03 L881.0,481.99 L885.0,479.80 L889.0,477.47 L893.0,474.98 L897.0,472.33 L901.0,469.54 L905.0,466.64 L909.0,463.59 L913.0,460.33 L917.0,456.80 L921.0,452.98 L925.0,448.92 L929.0,444.57 L933.0,439.92 L937.0,434.91 L941.0,429.53 L945.0,423.77 L949.0,417.63 L953.0,411.11 L957.0,404.19 L961.0,396.87 L965.0,389.14 L969.0,380.97 L973.0,372.34 L977.0,363.23 L981.0,353.64 L985.0,343.48 L989.0,332.62 L993.0,321.13 L997.0,309.06 L1001.0,296.28 L1005.0,282.42 L1009.0,267.32 L1010.2,263.05" stroke="#f4728b" stroke-opacity="0.40" stroke-width="9.0"/>
<path d="M81.0,514.58 L85.0,514.58 L89.0,514.58 L93.0,514.57 L97.0,514.57 L101.0,514.57 L105.0,514.57 L109.0,514.56 L113.0,514.56 L117.0,514.56 L121.0,514.56 L125.0,514.55 L129.0,514.55 L133.0,514.55 L137.0,514.54 L141.0,514.54 L145.0,514.54 L149.0,514.53 L153.0,514.53 L157.0,514.53 L161.0,514.52 L165.0,514.52 L169.0,514.52 L173.0,514.51 L177.0,514.51 L181.0,514.51 L185.0,514.50 L189.0,514.50 L193.0,514.50 L197.0,514.49 L201.0,514.49 L205.0,514.48 L209.0,514.48 L213.0,514.48 L217.0,514.47 L221.0,514.47 L225.0,514.46 L229.0,514.46 L233.0,514.45 L237.0,514.45 L241.0,514.44 L245.0,514.44 L249.0,514.43 L253.0,514.43 L257.0,514.42 L261.0,514.42 L265.0,514.41 L269.0,514.41 L273.0,514.40 L277.0,514.39 L281.0,514.39 L285.0,514.38 L289.0,514.38 L293.0,514.37 L297.0,514.36 L301.0,514.36 L305.0,514.35 L309.0,514.34 L313.0,514.34 L317.0,514.33 L321.0,514.32 L325.0,514.32 L329.0,514.31 L333.0,514.30 L337.0,514.29 L341.0,514.29 L345.0,514.28 L349.0,514.27 L353.0,514.26 L357.0,514.25 L361.0,514.24 L365.0,514.23 L369.0,514.23 L373.0,514.22 L377.0,514.21 L381.0,514.20 L385.0,514.19 L389.0,514.18 L393.0,514.17 L397.0,514.16 L401.0,514.15 L405.0,514.14 L409.0,514.12 L413.0,514.11 L417.0,514.10 L421.0,514.09 L425.0,514.08 L429.0,514.07 L433.0,514.05 L437.0,514.04 L441.0,514.03 L445.0,514.01 L449.0,514.00 L453.0,513.99 L457.0,513.97 L461.0,513.96 L465.0,513.94 L469.0,513.93 L473.0,513.91 L477.0,513.90 L481.0,513.88 L485.0,513.86 L489.0,513.85 L493.0,513.83 L497.0,513.81 L501.0,513.79 L505.0,513.77 L509.0,513.76 L513.0,513.74 L517.0,513.72 L521.0,513.69 L525.0,513.67 L529.0,513.65 L533.0,513.63 L537.0,513.61 L541.0,513.58 L545.0,513.56 L549.0,513.53 L553.0,513.51 L557.0,513.48 L561.0,513.46 L565.0,513.43 L569.0,513.40 L573.0,513.37 L577.0,513.34 L581.0,513.31 L585.0,513.28 L589.0,513.24 L593.0,513.21 L597.0,513.17 L601.0,513.13 L605.0,513.10 L609.0,513.06 L613.0,513.01 L617.0,512.97 L621.0,512.93 L625.0,512.88 L629.0,512.83 L633.0,512.78 L637.0,512.73 L641.0,512.68 L645.0,512.62 L649.0,512.56 L653.0,512.50 L657.0,512.44 L661.0,512.37 L665.0,512.30 L669.0,512.22 L673.0,512.15 L677.0,512.06 L681.0,511.98 L685.0,511.89 L689.0,511.79 L693.0,511.69 L697.0,511.59 L701.0,511.48 L705.0,511.36 L709.0,511.24 L713.0,511.11 L717.0,510.97 L721.0,510.82 L725.0,510.67 L729.0,510.50 L733.0,510.33 L737.0,510.14 L741.0,509.95 L745.0,509.74 L749.0,509.52 L753.0,509.28 L757.0,509.03 L761.0,508.76 L765.0,508.48 L769.0,508.18 L773.0,507.85 L777.0,507.51 L781.0,507.14 L785.0,506.74 L789.0,506.32 L793.0,505.87 L797.0,505.39 L801.0,504.88 L805.0,504.32 L809.0,503.74 L813.0,503.10 L817.0,502.43 L821.0,501.71 L825.0,500.93 L829.0,500.10 L833.0,499.21 L837.0,498.26 L841.0,497.24 L845.0,496.15 L849.0,494.97 L853.0,493.72 L857.0,492.37 L861.0,490.92 L865.0,489.37 L869.0,487.71 L873.0,485.94 L877.0,484.03 L881.0,481.99 L885.0,479.80 L889.0,477.47 L893.0,474.98 L897.0,472.33 L901.0,469.54 L905.0,466.64 L909.0,463.59 L913.0,460.33 L917.0,456.80 L921.0,452.98 L925.0,448.92 L929.0,444.57 L933.0,439.92 L937.0,434.91 L941.0,429.53 L945.0,423.77 L949.0,417.63 L953.0,411.11 L957.0,404.19 L961.0,396.87 L965.0,389.14 L969.0,380.97 L973.0,372.34 L977.0,363.23 L981.0,353.64 L985.0,343.48 L989.0,332.62 L993.0,321.13 L997.0,309.06 L1001.0,296.28 L1005.0,282.42 L1009.0,267.32 L1010.2,263.05" stroke="#f4728b" stroke-width="3.9"/>
</g>
<rect x="111.5" y="276.5" width="192" height="133.5" rx="3" ry="3" fill="#060606" fill-opacity="0.9" stroke="#343434" stroke-width="1"/>
<g stroke-width="3.7" stroke-linecap="round">
<line x1="133.5" x2="177" y1="325.8" y2="325.8" stroke="#5f9ff4"/>
<line x1="133.5" x2="177" y1="357.8" y2="357.8" stroke="#f6c724"/>
<line x1="133.5" x2="177" y1="389.8" y2="389.8" stroke="#f4728b"/>
</g>
<path fill="#fff" d="M160.7,24.0 C161.0,23.6 161.4,23.6 161.8,23.9 L162.8,24.3 C164.2,25.4 165.6,26.4 167,27.4 C168.4,28.6 169.8,29.8 171.2,30.8 C173,32.1 174.7,33.4 176.5,34.5 C178.2,35.6 180,36.5 181.7,37.4 C183.5,38.2 185.2,38.9 187,39.5 C189.3,40.3 191.7,40.9 194,41.3 L194,42.9 L152.1,42.9 L152.1,41.3 C153.2,41.2 154.4,41.0 155.5,40.8 C156.7,40.7 158.0,40.6 159.2,40.3 C160.3,40.1 161.4,39.8 162.3,39.2 C163.2,38.8 163.9,38.2 164.4,37.4 C165.0,36.6 165.3,35.7 165.2,34.8 C165.1,33.7 164.8,32.6 164.4,31.6 C163.8,30.2 163.0,28.8 162.3,27.4 C161.8,26.3 161.2,25.1 160.7,24.0 Z"/>
</svg>
<div id="bt"></div><div id="bl"></div><div id="br"></div>
<div class="t" style="left:34.07px;top:27.84px;font-size:18.5px;color:#fff;transform:scaleX(1.0302);-webkit-text-stroke:0.45px #fff;">IRREGULAR</div>
<div class="g" id="t1"><span class="t" style="left:268.54px;top:17.37px;font-size:29.8px;color:#fff;transform:scaleX(1.0314);-webkit-text-stroke:0.3px #fff;">Frontier</span> <span class="t" style="left:382.70px;top:17.37px;font-size:29.8px;color:#fff;transform:scaleX(1.0474);-webkit-text-stroke:0.3px #fff;">AI</span> <span class="t" style="left:421.72px;top:17.37px;font-size:29.8px;color:#fff;transform:scaleX(0.9802);-webkit-text-stroke:0.3px #fff;">Offensive</span> <span class="t" style="left:555.03px;top:17.37px;font-size:29.8px;color:#fff;transform:scaleX(0.9712);-webkit-text-stroke:0.3px #fff;">Cyber</span> <span class="t" style="left:642.42px;top:17.37px;font-size:29.8px;color:#fff;transform:scaleX(0.9916);-webkit-text-stroke:0.3px #fff;">Performance</span> </div>
<div class="g" id="t2"><span class="t" style="left:218.20px;top:55.62px;font-size:23.6px;color:#fff;transform:scaleX(0.8076);-webkit-text-stroke:0.55px #fff;">V1</span> <span class="t" style="left:249.16px;top:55.62px;font-size:23.6px;color:#fff;transform:scaleX(1.0374);-webkit-text-stroke:0.3px #fff;">Evaluation</span> <span class="t" style="left:372.19px;top:55.62px;font-size:23.6px;color:#fff;transform:scaleX(1.0149);-webkit-text-stroke:0.3px #fff;">Benchmark</span> <span class="t" style="left:501.97px;top:55.62px;font-size:23.6px;color:#fff;transform:scaleX(1.0262);-webkit-text-stroke:0.3px #fff;">(Irregular's</span> <span class="t" style="left:622.40px;top:55.62px;font-size:23.6px;color:#fff;transform:scaleX(1.0248);-webkit-text-stroke:0.3px #fff;">Atomic</span> <span class="t" style="left:707.70px;top:55.62px;font-size:23.6px;color:#fff;transform:scaleX(0.9460);-webkit-text-stroke:0.3px #fff;">Tasks</span> <span class="t" style="left:773.36px;top:55.62px;font-size:23.6px;color:#fff;transform:scaleX(1.0446);-webkit-text-stroke:0.3px #fff;">Module)</span> </div>
<div class="t" style="left:32.64px;top:96.39px;font-size:20.8px;color:#a9adba;transform:scaleX(1.1590);font-weight:bold;-webkit-text-stroke:0.4px #a9adba;">100</div>
<div class="t" style="left:46.60px;top:178.13px;font-size:20.8px;color:#a9adba;transform:scaleX(1.1344);font-weight:bold;-webkit-text-stroke:0.4px #a9adba;">80</div>
<div class="t" style="left:46.60px;top:259.87px;font-size:20.8px;color:#a9adba;transform:scaleX(1.1344);font-weight:bold;-webkit-text-stroke:0.4px #a9adba;">60</div>
<div class="t" style="left:46.60px;top:341.61px;font-size:20.8px;color:#a9adba;transform:scaleX(1.1344);font-weight:bold;-webkit-text-stroke:0.4px #a9adba;">40</div>
<div class="t" style="left:46.60px;top:423.35px;font-size:20.8px;color:#a9adba;transform:scaleX(1.1344);font-weight:bold;-webkit-text-stroke:0.4px #a9adba;">20</div>
<div class="t" style="left:60.10px;top:505.09px;font-size:20.8px;color:#a9adba;transform:scaleX(1.1000);font-weight:bold;-webkit-text-stroke:0.4px #a9adba;">0</div>
<div class="t" style="left:40.75px;top:524.22px;font-size:21px;color:#a9adba;transform:scaleX(1.0997);font-weight:bold;-webkit-text-stroke:0.4px #a9adba;">Sep '24</div>
<div class="t" style="left:227.69px;top:524.22px;font-size:21px;color:#a9adba;transform:scaleX(1.1079);font-weight:bold;-webkit-text-stroke:0.4px #a9adba;">Dec '24</div>
<div class="t" style="left:413.22px;top:524.22px;font-size:21px;color:#a9adba;transform:scaleX(1.1333);font-weight:bold;-webkit-text-stroke:0.4px #a9adba;">Mar '25</div>
<div class="t" style="left:606.50px;top:524.22px;font-size:21px;color:#a9adba;transform:scaleX(1.0523);font-weight:bold;-webkit-text-stroke:0.4px #a9adba;">Jun '25</div>
<div class="t" style="left:794.05px;top:524.22px;font-size:21px;color:#a9adba;transform:scaleX(1.0997);font-weight:bold;-webkit-text-stroke:0.4px #a9adba;">Sep '25</div>
<div class="t" style="left:981.66px;top:524.22px;font-size:21px;color:#a9adba;transform:scaleX(1.0926);font-weight:bold;-webkit-text-stroke:0.4px #a9adba;">Dec '25</div>
<div class="t" style="left:120.80px;top:282.72px;font-size:21.6px;color:#f6f6f6;transform:scaleX(1.1851);font-weight:bold;-webkit-text-stroke:0.25px #f6f6f6;">Task Difficulty</div>
<div class="t" style="left:195.60px;top:315.32px;font-size:21.6px;color:#ececec;transform:scaleX(0.9998);">Easy</div>
<div class="t" style="left:195.29px;top:347.32px;font-size:21.6px;color:#ececec;transform:scaleX(1.1148);">Medium</div>
<div class="t" style="left:195.32px;top:378.92px;font-size:21.6px;color:#ececec;transform:scaleX(1.0805);">Hard</div>
<div class="t" style="left:140.50px;top:557.77px;font-size:13.5px;color:#d6d6d6;transform:scaleX(1.1008);font-style:italic;">¹ Atomic Tasks are self-contained cyber evaluations that each measure a single core capability such as vulnerability discovery</div>
<div class="t" style="left:253.90px;top:572.87px;font-size:13.5px;color:#d6d6d6;transform:scaleX(1.1164);font-style:italic;">² Data points collected at different times, reflecting different models and scaffolding setups</div>
<div class="t" style="left:405.50px;top:587.97px;font-size:13.5px;color:#d6d6d6;transform:scaleX(1.0943);font-style:italic;">³ Graph shows smoothed, aggregated results</div>
<div class="g" id="ylabel"><span class="t" style="left:0;top:0;font-size:20px;color:#dcdcdc;transform:translate(6.47px,396.50px) rotate(-90deg) scaleX(1.0187);">Success</span> <span class="t" style="left:0;top:0;font-size:20px;color:#dcdcdc;transform:translate(6.47px,311.81px) rotate(-90deg) scaleX(1.0067);">Rate</span> <span class="t" style="left:0;top:0;font-size:20px;color:#dcdcdc;transform:translate(6.47px,260.72px) rotate(-90deg) scaleX(1.0223);">(%)</span> </div>
</body></html>
